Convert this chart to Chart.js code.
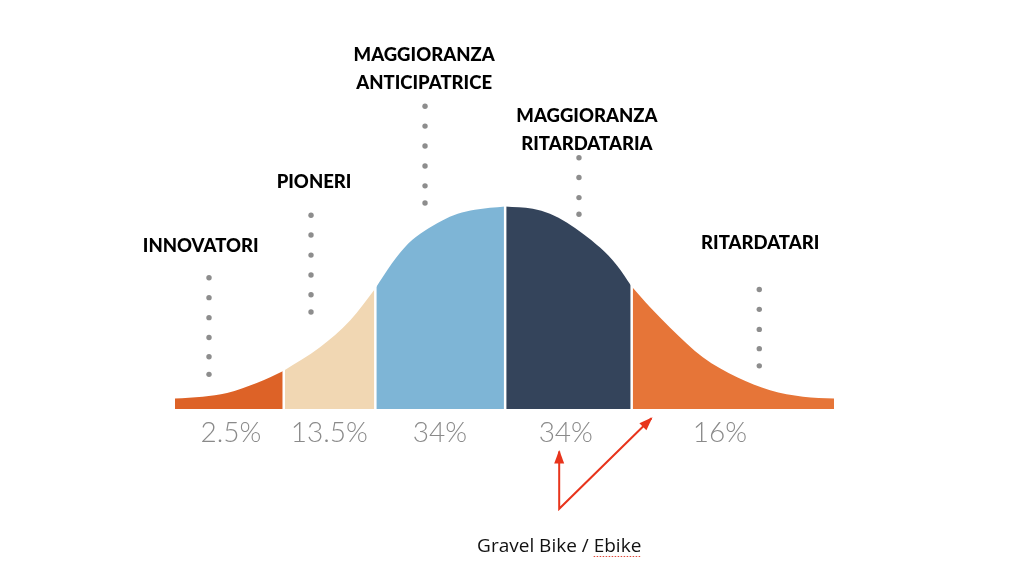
<!DOCTYPE html>
<html>
<head>
<meta charset="utf-8">
<script src="https://cdn.jsdelivr.net/npm/chart.js@4"></script>
<style>
  html, body { margin: 0; padding: 0; background: #ffffff; }
  #wrap { width: 1024px; height: 586px; position: relative; }
</style>
</head>
<body>
<div id="wrap"><canvas id="c" width="1024" height="586"></canvas></div>
<script>
// ---- Data ----
// Bell curve outline: position along the adoption axis (0-100) and height (peak = 100)
const curveX = [0, 4.2, 7.9, 12.4, 16.5, 22.0, 26.6, 30.4, 32.9, 35.4, 37.9, 40.5, 42.9, 45.5, 50.1, 54.3, 56.9, 59.5, 61.9, 64.5, 67.1, 69.3, 72.1, 75.1, 80.1, 85.3, 90.3, 95.3, 100];
const curveY = [5.2, 6.1, 7.9, 12.8, 18.9, 30.5, 43.8, 59.5, 71.8, 81.7, 88.0, 93.0, 96.4, 98.4, 100, 98.9, 96.4, 92.0, 86.6, 79.7, 70.8, 60.5, 50.2, 40.3, 25.6, 15.7, 9.3, 6.1, 5.2];
// Boundaries between the adopter groups
const boundaries = [16.5, 30.4, 50.1, 69.3];
// Group names and shares
const groups = [["INNOVATORI"], ["PIONERI"], ["MAGGIORANZA", "ANTICIPATRICE"], ["MAGGIORANZA", "RITARDATARIA"], ["RITARDATARI"]];
const shares = ["2.5%", "13.5%", "34%", "34%", "16%"];
const annotationText = "Gravel Bike / Ebike";
// Dotted leader columns: x of each column and heights of its dots
const dotColumnX = [5.16, 20.64, 37.94, 61.3, 88.66];
const dotHeights = [
  [64.8, 55.0, 45.1, 35.3, 25.8, 17.1],
  [95.7, 85.9, 76.0, 66.2, 56.4, 47.9],
  [149.5, 139.7, 129.9, 120.0, 110.2, 101.7],
  [124.1, 114.3, 104.4, 96.2],
  [59.0, 49.2, 39.3, 29.8, 21.3]
];

// ---- Layout (positions in chart units) ----
const groupLabelPos = [[3.9, 80.7], [21.1, 112.1], [37.8, 174.6], [62.5, 144.8], [88.8, 82.1]];
const lineGap = 13.8;
const sharePos = [[8.5, -11.8], [23.4, -11.8], [40.2, -11.8], [59.3, -11.8], [82.7, -11.8]];
const arrowPath = [[58.3, -21.0], [58.3, -49.3], [72.3, -4.6]];
const annotationPos = [58.3, -67.9];

// ---- Styles ----
const segColors = ["#DD6227", "#F1D7B3", "#7EB5D6", "#34445B", "#E67538"];
const dotColor = "#8d8d8d";
const red = "#E8341C";

const edges = [0, ...boundaries, 100];
const pts = curveX.map((x, i) => ({ x: x, y: curveY[i] }));

const segDatasets = segColors.map((col, i) => ({
  data: pts.filter(p => p.x >= edges[i] && p.x <= edges[i + 1]),
  showLine: true,
  fill: 'origin',
  backgroundColor: col,
  borderColor: 'rgba(0,0,0,0)',
  borderWidth: 1,
  pointRadius: 0,
  cubicInterpolationMode: 'monotone',
  clip: false
}));

const dotDataset = {
  data: dotColumnX.flatMap((x, i) => dotHeights[i].map(h => ({ x: x, y: h }))),
  showLine: false,
  pointRadius: 2.7,
  pointBackgroundColor: dotColor,
  pointBorderWidth: 0,
  clip: false
};

const arrowDataset = {
  data: arrowPath.map(p => ({ x: p[0], y: p[1] })),
  showLine: true,
  fill: false,
  borderColor: red,
  borderWidth: 2,
  pointRadius: 0,
  tension: 0,
  clip: false
};

const decorPlugin = {
  id: 'decor',
  afterDatasetsDraw(chart) {
    const ctx = chart.ctx;
    const xs = chart.scales.x, ys = chart.scales.y;
    // white separators between segments
    ctx.save();
    ctx.strokeStyle = '#ffffff';
    ctx.lineWidth = 2.5;
    boundaries.forEach(b => {
      const idx = curveX.indexOf(b);
      const top = curveY[idx] + 3;
      const px = xs.getPixelForValue(b);
      ctx.beginPath();
      ctx.moveTo(px, ys.getPixelForValue(0) + 1);
      ctx.lineTo(px, ys.getPixelForValue(top));
      ctx.stroke();
    });
    ctx.restore();
    // arrow heads
    ctx.save();
    ctx.fillStyle = red;
    const heads = [[arrowPath[1], arrowPath[0]], [arrowPath[1], arrowPath[2]]];
    heads.forEach(([from, to]) => {
      const fx = xs.getPixelForValue(from[0]), fy = ys.getPixelForValue(from[1]);
      const tx = xs.getPixelForValue(to[0]), ty = ys.getPixelForValue(to[1]);
      const a = Math.atan2(ty - fy, tx - fx);
      const L = 12, W = 5;
      ctx.beginPath();
      ctx.moveTo(tx + 1.5 * Math.cos(a), ty + 1.5 * Math.sin(a));
      ctx.lineTo(tx - L * Math.cos(a) + W * Math.sin(a), ty - L * Math.sin(a) - W * Math.cos(a));
      ctx.lineTo(tx - L * Math.cos(a) - W * Math.sin(a), ty - L * Math.sin(a) + W * Math.cos(a));
      ctx.closePath();
      ctx.fill();
    });
    ctx.restore();
  },
  afterDraw(chart) {
    const ctx = chart.ctx;
    const xs = chart.scales.x, ys = chart.scales.y;
    ctx.save();
    ctx.textAlign = 'center';
    ctx.textBaseline = 'middle';
    // group names
    ctx.fillStyle = '#000000';
    ctx.font = '900 18.5px Lato';
    groups.forEach((lines, i) => {
      const [gx, gy] = groupLabelPos[i];
      lines.forEach((t, k) => {
        ctx.fillText(t, xs.getPixelForValue(gx), ys.getPixelForValue(gy - k * lineGap));
      });
    });
    // shares
    ctx.fillStyle = '#8a8a8a';
    ctx.font = '300 28px Lato';
    shares.forEach((t, i) => {
      ctx.fillText(t, xs.getPixelForValue(sharePos[i][0]), ys.getPixelForValue(sharePos[i][1]));
    });
    // annotation
    ctx.fillStyle = '#111111';
    ctx.font = '19px "Open Sans"';
    const ax = xs.getPixelForValue(annotationPos[0]), ay = ys.getPixelForValue(annotationPos[1]);
    ctx.fillText(annotationText, ax, ay);
    // spell-check style underline under the last word
    const full = ctx.measureText(annotationText).width;
    const word = annotationText.split(' ').pop();
    const ww = ctx.measureText(word).width;
    const x1 = ax + full / 2 - ww, x2 = ax + full / 2;
    ctx.strokeStyle = '#e0473a';
    ctx.lineWidth = 1;
    ctx.setLineDash([1.5, 1.5]);
    ctx.beginPath();
    ctx.moveTo(x1, ay + 10);
    ctx.lineTo(x2, ay + 10);
    ctx.stroke();
    ctx.restore();
  }
};

new Chart(document.getElementById('c'), {
  type: 'scatter',
  data: { datasets: [arrowDataset, dotDataset, ...segDatasets] },
  options: {
    responsive: false,
    animation: false,
    events: [],
    layout: { padding: { left: 175, right: 190, top: 2.4, bottom: 177 } },
    plugins: { legend: { display: false }, tooltip: { enabled: false }, title: { display: false } },
    scales: {
      x: { type: 'linear', min: 0, max: 100, display: false },
      y: { type: 'linear', min: 0, max: 200, display: false }
    }
  },
  plugins: [decorPlugin]
});
</script>
</body>
</html>
